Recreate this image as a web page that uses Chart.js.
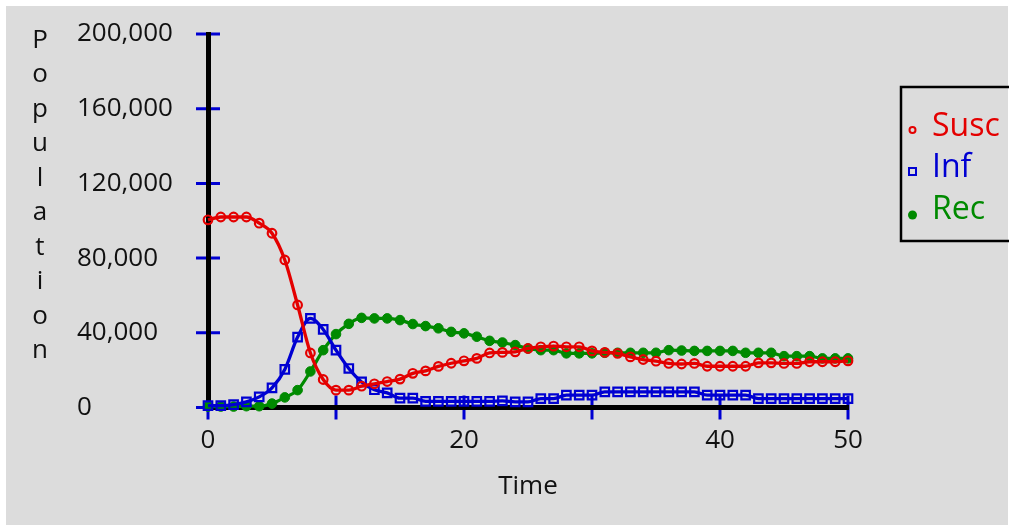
<!DOCTYPE html>
<html><head><meta charset="utf-8">
<script src="https://cdn.jsdelivr.net/npm/chart.js@4/dist/chart.umd.min.js"></script>
<style>html,body{margin:0;padding:0;background:#fff;} canvas{display:block;}</style>
</head><body>
<canvas id="c" width="1009" height="525"></canvas>
<script>
const times = [0,1,2,3,4,5,6,7,8,9,10,11,12,13,14,15,16,17,18,19,20,21,22,23,24,25,26,27,28,29,30,31,32,33,34,35,36,37,38,39,40,41,42,43,44,45,46,47,48,49,50];
const susc = [100500,102000,102000,102000,98700,93300,79000,54900,29200,15000,9300,9300,11400,12700,13900,15200,18300,19600,22000,23700,25000,26300,29200,29500,29800,31600,32500,32900,32500,32500,30300,29500,29000,27100,25700,24800,23600,23300,23600,22100,22100,22100,22100,23900,23900,23600,23600,24500,24500,24500,25000];
const inf = [1000,1000,1500,3000,5700,10500,20400,37700,47700,41800,30700,20900,13700,9500,7800,5000,5000,3300,3300,3300,3300,3300,3300,3500,3000,3000,4800,4800,6600,6600,6600,8400,8400,8400,8400,8400,8400,8400,8400,6600,6600,6600,6600,4800,4800,4800,4800,4800,4800,4800,4800];
const rec = [500,500,500,700,700,2100,5400,9300,19300,30700,39300,44800,48000,47700,47700,46800,44700,43600,42400,40500,39700,37900,35700,34800,33400,31600,30700,30700,29000,29000,29000,29300,29300,29300,29300,29300,30700,30500,30300,30300,30300,30300,29300,29300,29300,27500,27500,27500,26300,26300,26300];
const seriesNames = ['Susc', 'Inf', 'Rec'];
const seriesColors = ['#e40000', '#0000d2', '#008a00'];
const xTickValues = [0, 10, 20, 30, 40, 50];
const xTickLabels = ['0', '', '20', '', '40', '50'];
const yTickValues = [0, 40000, 80000, 120000, 160000, 200000];
const yTickLabels = ['0', '40,000', '80,000', '120,000', '160,000', '200,000'];
const xTitle = 'Time';
const yTitle = 'Population';

const FONT = '"Open Sans", "DejaVu Sans", sans-serif';
Chart.defaults.font.family = FONT;

function pts(arr) { return times.map((t, i) => ({x: t, y: arr[i]})); }

const deco = {
  id: 'deco',
  beforeDraw(chart) {
    const ctx = chart.ctx;
    const a = chart.chartArea;
    const xs = chart.scales.x, ys = chart.scales.y;
    ctx.save();
    ctx.fillStyle = '#ffffff';
    ctx.fillRect(0, 0, chart.width, chart.height);
    ctx.fillStyle = '#dcdcdc';
    ctx.fillRect(6, 6, 1002, 519);
    ctx.strokeStyle = '#0000d2';
    ctx.lineWidth = 3;
    ctx.beginPath();
    ys.ticks.forEach(t => {
      const py = ys.getPixelForValue(t.value);
      ctx.moveTo(a.left - 12, py); ctx.lineTo(a.left + 12, py);
    });
    xs.ticks.forEach(t => {
      const px = xs.getPixelForValue(t.value);
      ctx.moveTo(px, a.bottom - 12); ctx.lineTo(px, a.bottom + 12);
    });
    ctx.stroke();
    ctx.fillStyle = '#111';
    ctx.font = '26px ' + FONT;
    ctx.textAlign = 'center';
    ctx.textBaseline = 'alphabetic';
    [...yTitle].forEach((ch, i) => ctx.fillText(ch, 40, 47.5 + 34.5 * i));
    ctx.restore();
  },
  afterDraw(chart) {
    const ctx = chart.ctx;
    ctx.save();
    ctx.strokeStyle = '#000';
    ctx.lineWidth = 2.5;
    ctx.strokeRect(901, 87, 130, 154);
    const baselines = [136, 177, 219];
    const markerY = [130, 171.5, 215];
    ctx.font = '32px ' + FONT;
    ctx.textAlign = 'left';
    ctx.textBaseline = 'alphabetic';
    seriesNames.forEach((name, i) => {
      const col = seriesColors[i];
      ctx.strokeStyle = col; ctx.fillStyle = col; ctx.lineWidth = 2;
      const mx = 912.5, my = markerY[i];
      ctx.beginPath();
      if (i === 0) { ctx.arc(mx, my, 3, 0, Math.PI * 2); ctx.stroke(); }
      else if (i === 1) { ctx.strokeRect(mx - 3.5, my - 3.5, 7, 7); }
      else { ctx.arc(mx, my, 4.5, 0, Math.PI * 2); ctx.fill(); }
      ctx.fillText(name, 932, baselines[i]);
    });
    ctx.restore();
  }
};

new Chart(document.getElementById('c'), {
  type: 'line',
  data: {
    datasets: [
      {label: seriesNames[0], data: pts(susc), borderColor: seriesColors[0], backgroundColor: 'rgba(0,0,0,0)',
       pointStyle: 'circle', pointRadius: 4.3, pointBorderWidth: 2.2, pointBorderColor: seriesColors[0], pointBackgroundColor: 'rgba(0,0,0,0)',
       borderWidth: 3.3, cubicInterpolationMode: 'monotone', clip: false},
      {label: seriesNames[1], data: pts(inf), borderColor: seriesColors[1], backgroundColor: 'rgba(0,0,0,0)',
       pointStyle: 'rect', pointRadius: 6, pointBorderWidth: 2.2, pointBorderColor: seriesColors[1], pointBackgroundColor: 'rgba(0,0,0,0)',
       borderWidth: 3.3, cubicInterpolationMode: 'monotone', clip: false},
      {label: seriesNames[2], data: pts(rec), borderColor: seriesColors[2], backgroundColor: seriesColors[2],
       pointStyle: 'circle', pointRadius: 4.8, pointBorderWidth: 1, pointBorderColor: seriesColors[2], pointBackgroundColor: seriesColors[2],
       borderWidth: 3.3, cubicInterpolationMode: 'monotone', clip: false}
    ]
  },
  options: {
    responsive: false,
    animation: false,
    devicePixelRatio: 1,
    layout: {padding: {left: 77, top: 34, right: 161, bottom: 0}},
    plugins: {legend: {display: false}, tooltip: {enabled: false}},
    scales: {
      x: {
        type: 'linear', min: 0, max: 50,
        afterBuildTicks: s => { s.ticks = xTickValues.map(v => ({value: v})); },
        ticks: {
          callback: (v) => { const k = xTickValues.indexOf(v); return k >= 0 ? xTickLabels[k] : ''; },
          padding: 17, color: '#111', font: {size: 26}, autoSkip: false, maxRotation: 0
        },
        grid: {display: false, drawTicks: false},
        border: {display: true, color: '#000', width: 5},
        title: {display: true, text: xTitle, color: '#111', font: {size: 26}, padding: {top: 0, bottom: 23}},
        afterFit: s => { s.height = 117.5; }
      },
      y: {
        type: 'linear', min: 0, max: 200000,
        afterBuildTicks: s => { s.ticks = yTickValues.map(v => ({value: v})); },
        ticks: {
          callback: (v) => { const k = yTickValues.indexOf(v); return k >= 0 ? yTickLabels[k] : ''; },
          crossAlign: 'far', padding: 0, color: '#111', font: {size: 26}, autoSkip: false
        },
        grid: {display: false, drawTicks: false},
        border: {display: true, color: '#000', width: 5},
        afterFit: s => { s.width = 131; }
      }
    }
  },
  plugins: [deco]
});
</script>
</body></html>
